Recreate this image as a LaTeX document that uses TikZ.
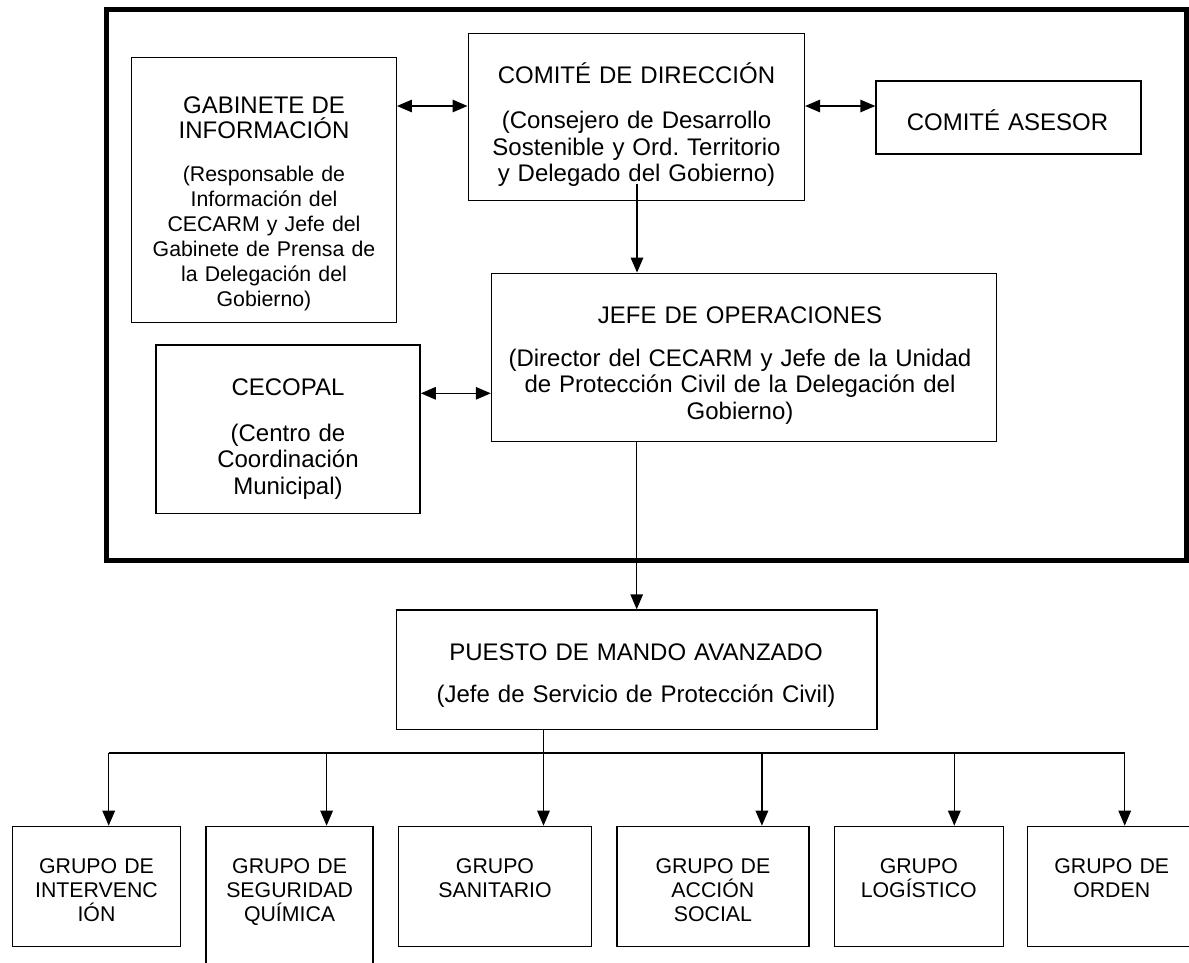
\documentclass[tikz,border=0pt]{standalone}
\usepackage{fontspec}
\setmainfont{Liberation Sans}
\usetikzlibrary{positioning,arrows.meta}
\frenchspacing

\begin{document}
\begin{tikzpicture}[x=1pt, y=-1pt,
        caja/.style={draw, line width=1.4pt, inner sep=0pt},
        grupo/.style={caja, minimum width=#1, minimum height=120.3pt, anchor=north west},
        grande/.style={font=\fontsize{24}{26.5}\selectfont, align=center, inner sep=0pt, anchor=base},
        chica/.style={font=\fontsize{21.3}{24}\selectfont, align=center, inner sep=0pt, anchor=base},
        linea/.style={line width=1.4pt},
        flecha/.style={linea, -{Triangle[length=15pt, width=12.5pt]}},
        doble/.style={linea, {Triangle[length=15pt, width=12.5pt]}-{Triangle[length=15pt, width=12.5pt]}}]
        \useasboundingbox (0,0) rectangle (1189,962);
        \clip (0,0) rectangle (1189,962);
        \fill[white] (0,0) rectangle (1189,962);
        \draw[line width=5pt] (106.5,9.2) rectangle (1186.5,560.5);

        % cajas del marco
        \node[caja, minimum width=264.5pt, minimum height=265.4pt] (gab) at (264,190) {};
        \node[caja, minimum width=336.2pt, minimum height=167.4pt] (dir) at (636.3,117) {};
        \node[caja, minimum width=265pt, minimum height=73pt] (ase) at (1008.5,117.5) {};
        \node[caja, minimum width=505pt, minimum height=168.4pt] (jefe) at (744,357.5) {};
        \node[caja, minimum width=264.3pt, minimum height=168.3pt] (cec) at (288,429.2) {};
        \node[caja, minimum width=480.5pt, minimum height=119.4pt] (pma) at (636.7,669.7) {};

        \node[chica, text width=250pt, font=\fontsize{21.3}{25}\selectfont] (gabt) at (264,113) {{\fontsize{24}{25}\selectfont GABINETE DE\\INFORMACIÓN}\\[18pt](Responsable de\\Información del\\CECARM y Jefe del\\Gabinete de Prensa de\\la Delegación del\\Gobierno)};
        \node[grande, text width=326pt] (dirt) at (636.5,83.3) {COMITÉ DE DIRECCIÓN\\[19pt](Consejero de Desarrollo\\Sostenible y Ord. Territorio\\y Delegado del Gobierno)};
        \node[grande, text width=255pt] (aset) at (1007.5,130.7) {COMITÉ ASESOR};
        \node[grande, text width=495pt] (jeft) at (740,323.3) {JEFE DE OPERACIONES\\[16.2pt](Director del CECARM y Jefe de la Unidad\\de Protección Civil de la Delegación del\\Gobierno)};
        \node[grande, text width=254pt] (cect) at (288,395.7) {CECOPAL\\[18.8pt](Centro de\\Coordinación\\Municipal)};
        \node[grande, text width=470pt] (pmat) at (636,660) {PUESTO DE MANDO AVANZADO\\[16.2pt](Jefe de Servicio de Protección Civil)};

        % grupos
        \node[grupo=168.5pt] (g1) at (11.5,825.7) {};
        \node[grupo=167pt, minimum height=150pt, right=24pt of g1.north east, anchor=north west] (g2) {};
        \node[grupo=193pt, right=24pt of g2.north east, anchor=north west] (g3) {};
        \node[grupo=192pt, right=24pt of g3.north east, anchor=north west] (g4) {};
        \node[grupo=169pt, right=24pt of g4.north east, anchor=north west] (g5) {};
        \node[grupo=168pt, right=23pt of g5.north east, anchor=north west] (g6) {};
        \foreach \g/\txt in {g1/{GRUPO DE\\INTERVENC\\IÓN}, g2/{GRUPO DE\\SEGURIDAD\\QUÍMICA}, g3/{GRUPO\\SANITARIO}, g4/{GRUPO DE\\ACCIÓN\\SOCIAL}, g5/{GRUPO\\LOGÍSTICO}, g6/{GRUPO DE\\ORDEN}}
            \node[chica, text width=160pt] (t\g) at ([yshift=-47.6pt]\g.north) {\txt};

        % conexiones
        \coordinate (dirl) at ([yshift=11pt]dir.west);
        \coordinate (dirr) at ([yshift=11pt]dir.east);
        \coordinate (dirb) at ([yshift=17.7pt, xshift=0.7pt]dir.south);
        \coordinate (cecr) at ([yshift=35.9pt]cec.east);
        \draw[doble] (dirl -| gab.east) -- (dirl);
        \draw[doble] (dirr) -- (dirr -| ase.west);
        \draw[flecha] (dirb) -- (dirb |- jefe.north);
        \draw[doble] (cecr) -- (cecr -| jefe.west);
        \draw[flecha] (pma.north |- jefe.south) -- (pma.north);

        \coordinate (bus) at (0,753);
        \foreach \g/\dx in {g1/12.25, g2/37, g3/48.5, g4/49, g5/35.5, g6/13} {
            \coordinate (d\g) at ([xshift=\dx pt]\g.north);
            \draw[flecha] (d\g |- bus) -- (d\g);
        }
        \draw[linea] (dg1 |- bus) -- (dg6 |- bus);
        \draw[linea] (dg3 |- pma.south) -- (dg3 |- bus);
\end{tikzpicture}
\end{document}
